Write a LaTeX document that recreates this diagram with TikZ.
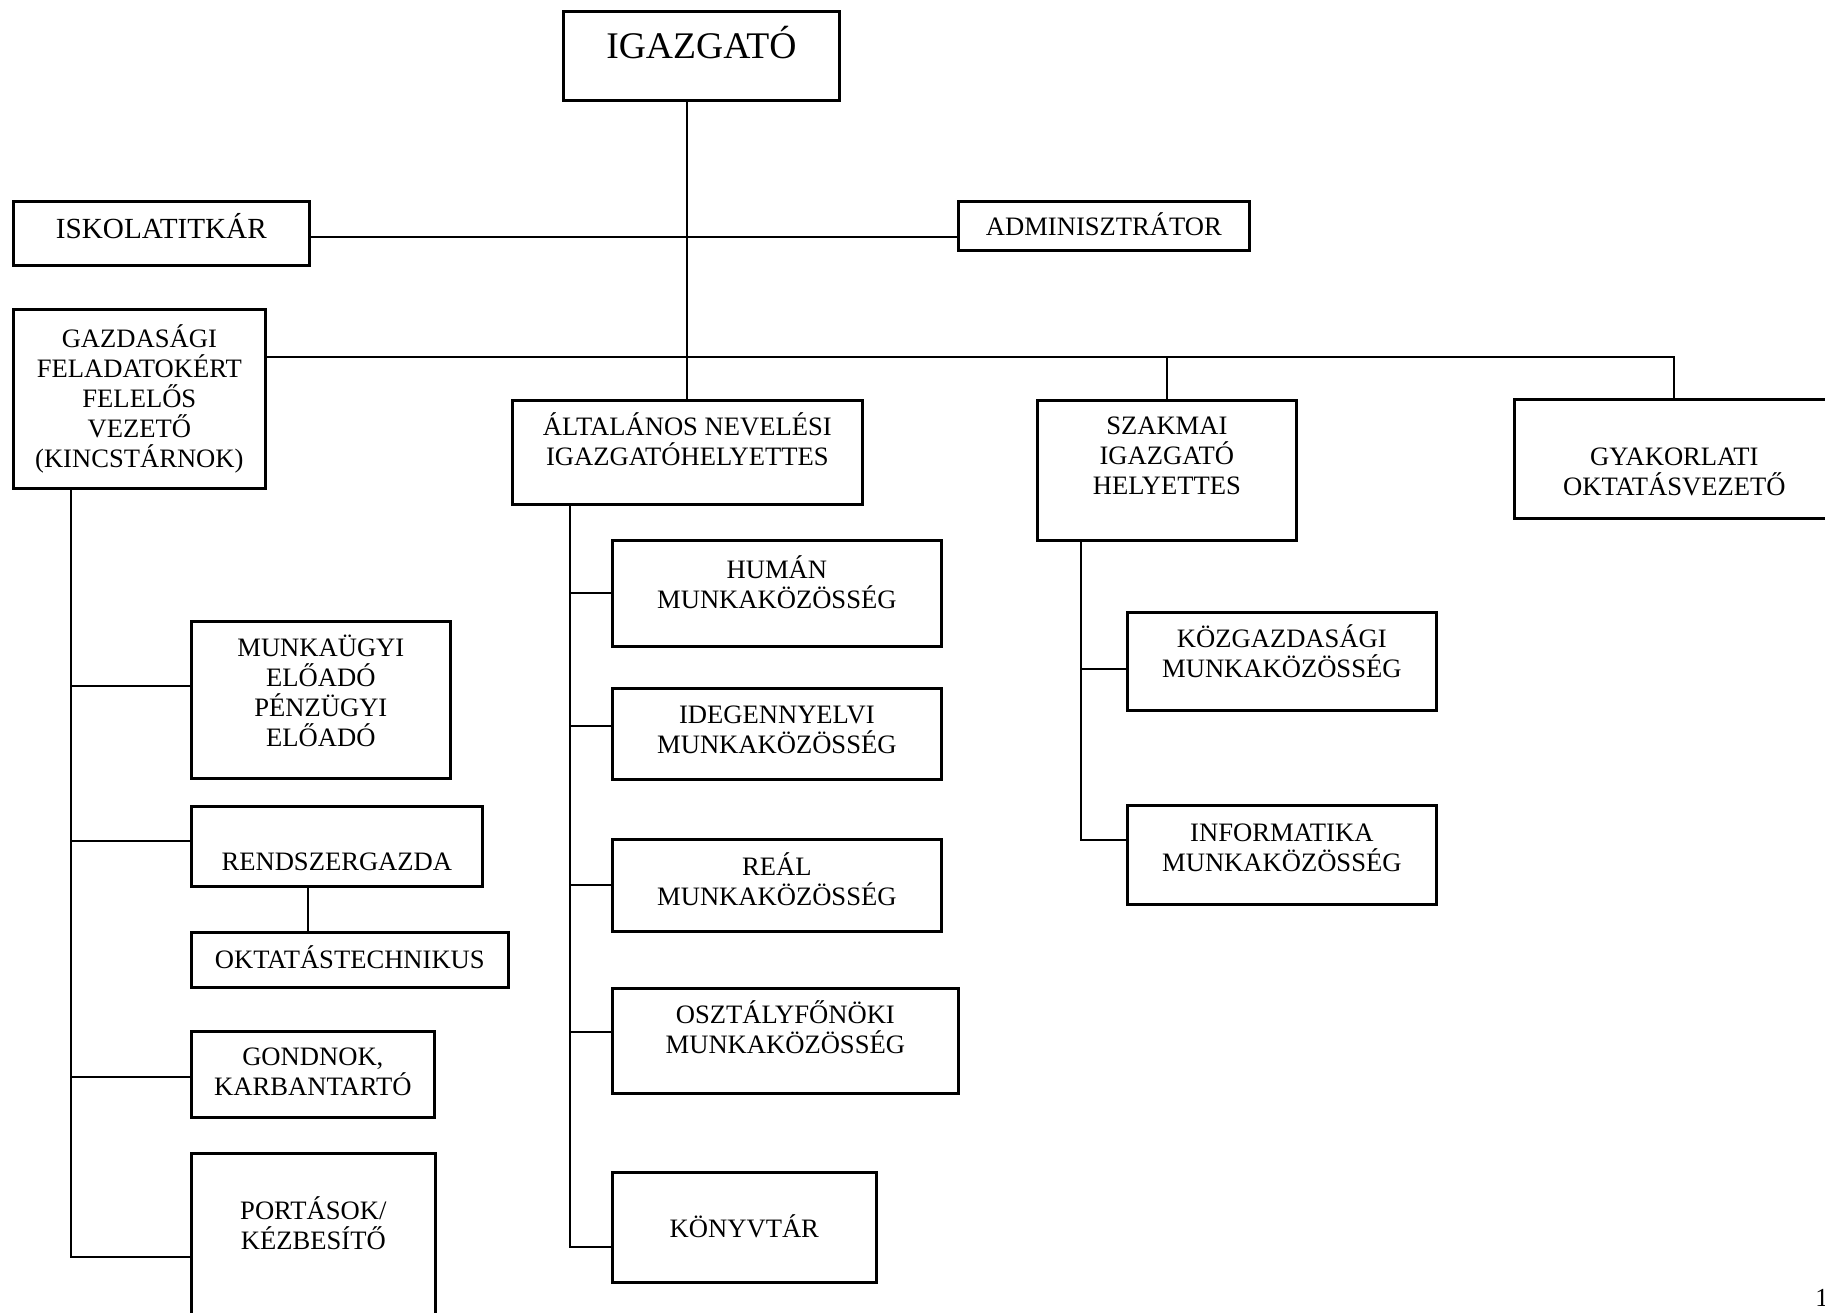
\documentclass[tikz,border=0pt]{standalone}
\usepackage{fontspec}
\setmainfont{Liberation Serif}
\usepackage{tikz}
\usetikzlibrary{positioning,calc}
\tikzset{
  unit/.style={draw=black,line width=1.35pt,inner sep=0pt,align=center,anchor=north west,
               font=\fontsize{13.3}{15}\selectfont,text height=0pt,text depth=0pt},
  head/.style={unit,font=\fontsize{18.8}{22}\selectfont},
  sink/.style={text height=#1},
  ln/.style={line width=0.9pt,black},
}

\begin{document}
\begin{tikzpicture}[x=0.5pt,y=0.5pt]
  \useasboundingbox (0,0) rectangle (1825,-1312);
  \node[head,sink=2.3pt,minimum width=138pt,minimum height=44.5pt] (igaz) at (562,-10) {IGAZGATÓ};
  \node[unit,font=\fontsize{14.6}{16}\selectfont,sink=5.6pt,minimum width=148pt,minimum height=32pt] (isk) at (12,-200) {ISKOLATITKÁR};
  \node[unit,sink=10pt,minimum width=145.5pt,minimum height=24.5pt] (adm) at (957,-200) {ADMINISZTRÁTOR};
  \node[unit,sink=68.5pt,minimum width=126pt,minimum height=89.5pt] (gazd) at (12,-308)
    {GAZDASÁGI\\FELADATOKÉRT\\FELELŐS\\VEZETŐ\\(KINCSTÁRNOK)};
  \node[unit,sink=13pt,minimum width=175pt,minimum height=52pt] (alt) at (511,-399)
    {ÁLTALÁNOS NEVELÉSI\\IGAZGATÓHELYETTES};
  \node[unit,sink=24.5pt,minimum width=129.5pt,minimum height=70pt] (szak) at (1036,-399)
    {SZAKMAI\\IGAZGATÓ\\HELYETTES};
  \node[unit,sink=37pt,minimum width=160pt,minimum height=59.5pt] (gyak) at (1513,-398)
    {GYAKORLATI\\OKTATÁSVEZETŐ};

  \node[unit,sink=46.5pt,minimum width=129.5pt,minimum height=78.5pt] (munk) at (190,-620)
    {MUNKAÜGYI\\ELŐADÓ\\PÉNZÜGYI\\ELŐADÓ};
  \node[unit,sink=24.5pt,minimum width=145.5pt,minimum height=40pt] (rend) at (190,-805) {RENDSZERGAZDA};
  \node[unit,sink=8.5pt,minimum width=158.5pt,minimum height=27.5pt] (okta) at (190,-931) {OKTATÁSTECHNIKUS};
  \node[unit,sink=21.5pt,minimum width=121.5pt,minimum height=43pt] (gond) at (190,-1030) {GONDNOK,\\KARBANTARTÓ};
  \node[unit,sink=7pt,minimum width=122pt,minimum height=89pt] (port) at (190,-1152) {PORTÁSOK/\\KÉZBESÍTŐ};

  \node[unit,sink=15.5pt,minimum width=164.5pt,minimum height=53pt] (hum) at (611,-539) {HUMÁN\\MUNKAKÖZÖSSÉG};
  \node[unit,sink=20pt,minimum width=164.5pt,minimum height=45.5pt] (ideg) at (611,-687) {IDEGENNYELVI\\MUNKAKÖZÖSSÉG};
  \node[unit,sink=20.5pt,minimum width=164.5pt,minimum height=46pt] (real) at (611,-838) {REÁL\\MUNKAKÖZÖSSÉG};
  \node[unit,sink=13pt,minimum width=173pt,minimum height=52.5pt] (oszt) at (611,-987) {OSZTÁLYFŐNÖKI\\MUNKAKÖZÖSSÉG};
  \node[unit,sink=10.5pt,minimum width=132pt,minimum height=55pt] (konyv) at (611,-1171) {KÖNYVTÁR};

  \node[unit,sink=16pt,minimum width=154.5pt,minimum height=49pt] (kozg) at (1126,-611) {KÖZGAZDASÁGI\\MUNKAKÖZÖSSÉG};
  \node[unit,sink=16.5pt,minimum width=154.5pt,minimum height=49.5pt] (info) at (1126,-804) {INFORMATIKA\\MUNKAKÖZÖSSÉG};

  \node[font=\fontsize{13}{15}\selectfont,anchor=base west,inner sep=0pt] (pnum) at (1815,-1306) {1};

  \coordinate (c1) at (686,-237);
  \coordinate (c2) at (686,-357);
  \coordinate (gsp) at (71,0);
  \coordinate (asp) at (570,0);
  \coordinate (ssp) at (1081,0);
  \coordinate (rl) at (308,0);

  \draw[ln] (igaz.south -| alt.north) -- (alt.north);
  \draw[ln] (isk.east |- c1) -- (adm.west |- c1);
  \draw[ln] (gazd.east |- c2) -| (gyak.north);
  \draw[ln] (szak.north) -- (szak.north |- c2);

  \draw[ln] ([yshift=6.75pt]munk.west) -| (gazd.south -| gsp);
  \draw[ln] ([yshift=2.5pt]rend.west) -| (gazd.south -| gsp);
  \draw[ln] ([yshift=-1.5pt]gond.west) -| (gazd.south -| gsp);
  \draw[ln] ([yshift=-7.5pt]port.west) -| (gazd.south -| gsp);
  \draw[ln] (rend.south -| rl) -- (okta.north -| rl);

  \draw[ln] (hum.west) -| (alt.south -| asp);
  \draw[ln] ([yshift=3.75pt]ideg.west) -| (alt.south -| asp);
  \draw[ln] (real.west) -| (alt.south -| asp);
  \draw[ln] ([yshift=4.25pt]oszt.west) -| (alt.south -| asp);
  \draw[ln] ([yshift=-10pt]konyv.west) -| (alt.south -| asp);

  \draw[ln] ([yshift=-4pt]kozg.west) -| (szak.south -| ssp);
  \draw[ln] ([yshift=7.25pt]info.west) -| (szak.south -| ssp);
\end{tikzpicture}
\end{document}
